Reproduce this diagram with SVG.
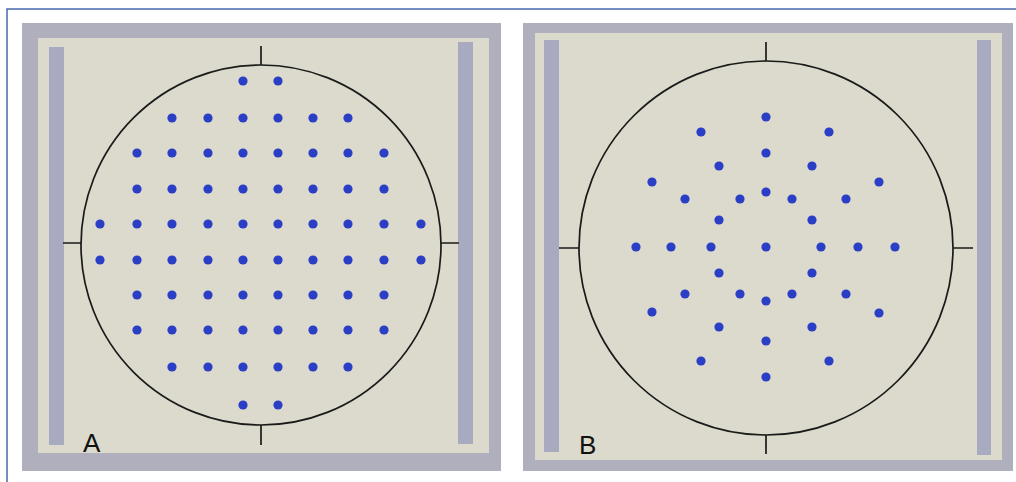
<svg xmlns="http://www.w3.org/2000/svg" width="1016" height="482" viewBox="0 0 1016 482">
<style>
.frame{fill:none;stroke:#4a68ae;stroke-width:1.5}
.outer{fill:#b0afbd}
.inner{fill:#dbdacc}
.bar{fill:#a8aac0}
.ring{fill:none;stroke:#1a1a1a;stroke-width:1.7}
.tick{stroke:#1a1a1a;stroke-width:1.7}
.dot{fill:#2b3ec6}
.lbl{font-family:"Liberation Sans",Arial,sans-serif;font-size:26px;fill:#111}
</style>
<rect width="1016" height="482" fill="#ffffff"/>
<path class="frame" d="M7,482 V9 H1016"/>
<g id="panelA">
<rect class="outer" x="22" y="23" width="479" height="448"/>
<rect class="inner" x="38" y="38" width="451" height="415"/>
<rect class="bar" x="49" y="47" width="15" height="398"/>
<rect class="bar" x="458" y="42" width="15" height="402"/>
<circle class="ring" cx="261" cy="245" r="180"/>
<path class="tick" d="M261,46V65M261,425V445M63,243H81M441,243H459"/>
<g>
<circle class="dot" cx="243" cy="81" r="4.6"/><circle class="dot" cx="278" cy="81" r="4.6"/>
<circle class="dot" cx="172" cy="118" r="4.6"/><circle class="dot" cx="208" cy="118" r="4.6"/><circle class="dot" cx="243" cy="118" r="4.6"/><circle class="dot" cx="278" cy="118" r="4.6"/><circle class="dot" cx="313" cy="118" r="4.6"/><circle class="dot" cx="348" cy="118" r="4.6"/>
<circle class="dot" cx="137" cy="153" r="4.6"/><circle class="dot" cx="172" cy="153" r="4.6"/><circle class="dot" cx="208" cy="153" r="4.6"/><circle class="dot" cx="243" cy="153" r="4.6"/><circle class="dot" cx="278" cy="153" r="4.6"/><circle class="dot" cx="313" cy="153" r="4.6"/><circle class="dot" cx="348" cy="153" r="4.6"/><circle class="dot" cx="384" cy="153" r="4.6"/>
<circle class="dot" cx="137" cy="189" r="4.6"/><circle class="dot" cx="172" cy="189" r="4.6"/><circle class="dot" cx="208" cy="189" r="4.6"/><circle class="dot" cx="243" cy="189" r="4.6"/><circle class="dot" cx="278" cy="189" r="4.6"/><circle class="dot" cx="313" cy="189" r="4.6"/><circle class="dot" cx="348" cy="189" r="4.6"/><circle class="dot" cx="384" cy="189" r="4.6"/>
<circle class="dot" cx="100" cy="224" r="4.6"/><circle class="dot" cx="137" cy="224" r="4.6"/><circle class="dot" cx="172" cy="224" r="4.6"/><circle class="dot" cx="208" cy="224" r="4.6"/><circle class="dot" cx="243" cy="224" r="4.6"/><circle class="dot" cx="278" cy="224" r="4.6"/><circle class="dot" cx="313" cy="224" r="4.6"/><circle class="dot" cx="348" cy="224" r="4.6"/><circle class="dot" cx="384" cy="224" r="4.6"/><circle class="dot" cx="421" cy="224" r="4.6"/>
<circle class="dot" cx="100" cy="260" r="4.6"/><circle class="dot" cx="137" cy="260" r="4.6"/><circle class="dot" cx="172" cy="260" r="4.6"/><circle class="dot" cx="208" cy="260" r="4.6"/><circle class="dot" cx="243" cy="260" r="4.6"/><circle class="dot" cx="278" cy="260" r="4.6"/><circle class="dot" cx="313" cy="260" r="4.6"/><circle class="dot" cx="348" cy="260" r="4.6"/><circle class="dot" cx="384" cy="260" r="4.6"/><circle class="dot" cx="421" cy="260" r="4.6"/>
<circle class="dot" cx="137" cy="295" r="4.6"/><circle class="dot" cx="172" cy="295" r="4.6"/><circle class="dot" cx="208" cy="295" r="4.6"/><circle class="dot" cx="243" cy="295" r="4.6"/><circle class="dot" cx="278" cy="295" r="4.6"/><circle class="dot" cx="313" cy="295" r="4.6"/><circle class="dot" cx="348" cy="295" r="4.6"/><circle class="dot" cx="384" cy="295" r="4.6"/>
<circle class="dot" cx="137" cy="330" r="4.6"/><circle class="dot" cx="172" cy="330" r="4.6"/><circle class="dot" cx="208" cy="330" r="4.6"/><circle class="dot" cx="243" cy="330" r="4.6"/><circle class="dot" cx="278" cy="330" r="4.6"/><circle class="dot" cx="313" cy="330" r="4.6"/><circle class="dot" cx="348" cy="330" r="4.6"/><circle class="dot" cx="384" cy="330" r="4.6"/>
<circle class="dot" cx="172" cy="367" r="4.6"/><circle class="dot" cx="208" cy="367" r="4.6"/><circle class="dot" cx="243" cy="367" r="4.6"/><circle class="dot" cx="278" cy="367" r="4.6"/><circle class="dot" cx="313" cy="367" r="4.6"/><circle class="dot" cx="348" cy="367" r="4.6"/>
<circle class="dot" cx="243" cy="405" r="4.6"/><circle class="dot" cx="278" cy="405" r="4.6"/>
</g>
<text class="lbl" x="83" y="452">A</text>
</g>
<g id="panelB">
<rect class="outer" x="523" y="23" width="490" height="448"/>
<rect class="inner" x="535" y="33" width="467" height="427"/>
<rect class="bar" x="544" y="40" width="15" height="412"/>
<rect class="bar" x="977" y="40" width="14" height="415"/>
<circle class="ring" cx="766" cy="248" r="187"/>
<path class="tick" d="M766,42V61M766,435V454M559,248H579M953,248H973"/>
<g>
<circle class="dot" cx="766" cy="117" r="4.6"/><circle class="dot" cx="701" cy="132" r="4.6"/><circle class="dot" cx="829" cy="132" r="4.6"/>
<circle class="dot" cx="766" cy="153" r="4.6"/><circle class="dot" cx="719" cy="166" r="4.6"/><circle class="dot" cx="812" cy="166" r="4.6"/>
<circle class="dot" cx="652" cy="182" r="4.6"/><circle class="dot" cx="879" cy="182" r="4.6"/>
<circle class="dot" cx="685" cy="199" r="4.6"/><circle class="dot" cx="740" cy="199" r="4.6"/><circle class="dot" cx="766" cy="192" r="4.6"/><circle class="dot" cx="792" cy="199" r="4.6"/><circle class="dot" cx="846" cy="199" r="4.6"/>
<circle class="dot" cx="719" cy="220" r="4.6"/><circle class="dot" cx="812" cy="220" r="4.6"/>
<circle class="dot" cx="636" cy="247" r="4.6"/><circle class="dot" cx="671" cy="247" r="4.6"/><circle class="dot" cx="711" cy="247" r="4.6"/><circle class="dot" cx="766" cy="247" r="4.6"/><circle class="dot" cx="821" cy="247" r="4.6"/><circle class="dot" cx="858" cy="247" r="4.6"/><circle class="dot" cx="895" cy="247" r="4.6"/>
<circle class="dot" cx="719" cy="273" r="4.6"/><circle class="dot" cx="812" cy="273" r="4.6"/>
<circle class="dot" cx="685" cy="294" r="4.6"/><circle class="dot" cx="740" cy="294" r="4.6"/><circle class="dot" cx="766" cy="301" r="4.6"/><circle class="dot" cx="792" cy="294" r="4.6"/><circle class="dot" cx="846" cy="294" r="4.6"/>
<circle class="dot" cx="652" cy="312" r="4.6"/><circle class="dot" cx="879" cy="313" r="4.6"/>
<circle class="dot" cx="719" cy="327" r="4.6"/><circle class="dot" cx="812" cy="327" r="4.6"/>
<circle class="dot" cx="766" cy="341" r="4.6"/>
<circle class="dot" cx="701" cy="361" r="4.6"/><circle class="dot" cx="829" cy="361" r="4.6"/>
<circle class="dot" cx="766" cy="377" r="4.6"/>
</g>
<text class="lbl" x="579" y="454">B</text>
</g>
</svg>
